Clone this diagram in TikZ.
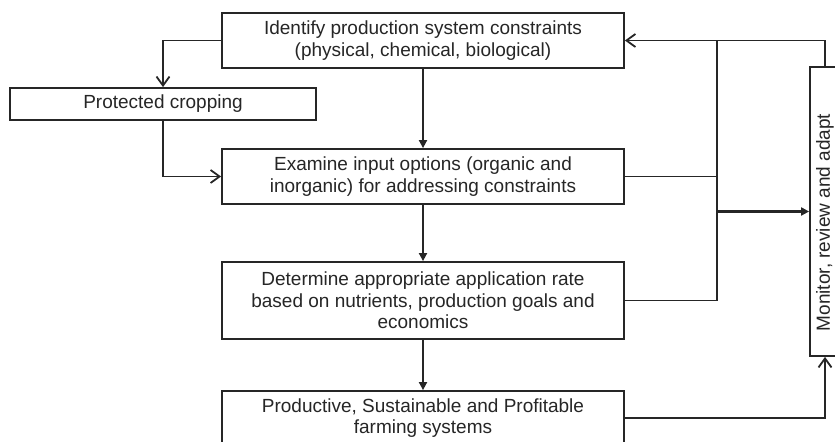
\documentclass[tikz,border=0pt]{standalone}
\usepackage{fontspec}
\setmainfont{Liberation Sans}
\usetikzlibrary{arrows.meta}

\tikzset{
  box/.style={draw=black!85, line width=0.9pt, fill=white, align=center,
    inner sep=2pt, text=black!85, font=\fontsize{9.5}{10.8}\selectfont},
  link/.style={draw=black!85, line width=0.9pt},
  openarr/.style={link, -{Straight Barb[length=4.5pt,width=6.5pt]}},
  fullarr/.style={link, -{Triangle[length=4pt,width=4pt]}},
}

\begin{document}
\begin{tikzpicture}[x=0.5pt,y=-0.5pt]
  \useasboundingbox (0,0) rectangle (835,442);
  % caselle
  \node[box, minimum width=201pt, minimum height=27.5pt] (ident) at (423,40.5)
    {Identify production system constraints\\(physical, chemical, biological)};
  \node[box, minimum width=153pt, minimum height=16pt] (prot) at (163,104)
    {Protected cropping};
  \node[box, minimum width=201pt, minimum height=27.5pt] (exam) at (423,176.5)
    {Examine input options (organic and\\inorganic) for addressing constraints};
  \node[box, minimum width=201pt, minimum height=38.5pt] (deter) at (423,300.5)
    {Determine appropriate application rate\\based on nutrients, production goals and\\economics};
  \node[box, minimum width=201pt, minimum height=27pt] (prod) at (423,418)
    {Productive, Sustainable and Profitable\\farming systems};
  \node[box, inner sep=0pt, minimum width=15pt, minimum height=144.5pt] (mon) at (825,211.5)
    {\rotatebox{90}{Monitor, review and adapt\hspace*{11pt}}};
  \coordinate (rail) at (717,40.5);

  % frecce
  \draw[openarr] (ident.west) -| (prot.north);
  \draw[openarr] (prot.south) |- (exam.west);
  \draw[fullarr] (ident) -- (exam);
  \draw[fullarr] (exam) -- (deter);
  \draw[fullarr] (deter) -- (prod);
  \draw[link] (exam.east) -- (exam.east -| rail);
  \draw[link] (deter.east) -| (rail);
  \draw[openarr] (mon.north) |- (ident.east);
  \draw[fullarr, line width=1.2pt] (rail |- mon.west) -- (mon.west);
  \draw[openarr] (prod.east) -| (mon.south);
\end{tikzpicture}
\end{document}
